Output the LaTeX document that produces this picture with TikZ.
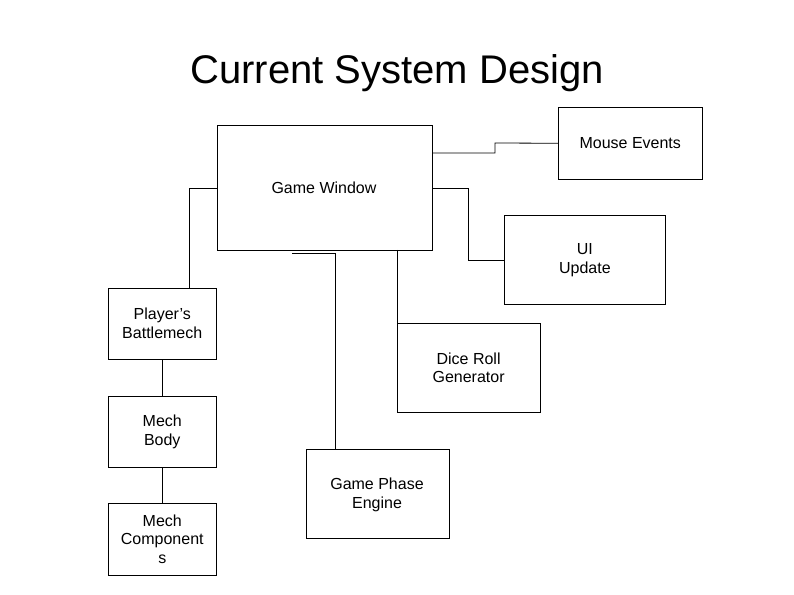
\documentclass[tikz,border=0pt]{standalone}
\usepackage{fontspec}
\setmainfont{Liberation Sans}
\usetikzlibrary{positioning}

\begin{document}
\begin{tikzpicture}[x=0.75pt,y=-0.75pt,
    box/.style={draw,fill=white,anchor=north west,inner sep=0pt,align=center,font=\fontsize{12}{14}\selectfont},
    link/.style={draw,line width=0.6pt}]
                \useasboundingbox (0,0) rectangle (794,595);
                \node[font=\fontsize{30}{34}\selectfont] (title) at (397,73) {Current System Design};

                % boxes
                \node[box,minimum width=161pt,minimum height=94pt] (window) at (217,125) {};
                \node[font=\fontsize{12}{14}\selectfont] at (324,188) {Game Window};
                \node[box,minimum width=108pt,minimum height=54pt] (mouse) at (558,107) {Mouse Events};
                \node[box,minimum width=121pt,minimum height=67pt] (ui) at (504,215) {UI\\Update};
                \node[box,minimum width=81pt,minimum height=53pt] (player) at (108,288) {Player's\\Battlemech};
                \node[box,minimum width=107pt,minimum height=67pt] (dice) at (397,323) {Dice Roll\\Generator};
                \node[box,minimum width=81pt,minimum height=53pt] (body) at (108,396) {Mech\\Body};
                \node[box,minimum width=107pt,minimum height=67pt] (phase) at (306,449) {};
                \node[font=\fontsize{12}{14}\selectfont,align=center] at (377,495) {Game Phase\\Engine};
                \node[box,minimum width=81pt,minimum height=54pt] (parts) at (108,503) {Mech\\Component\\s};

                % connectors
                \coordinate (a) at (432,153);
                \draw[link] (a) -- (495,153) -- (495,143) -- (mouse.west);
                \coordinate (b) at (432,188);
                \draw[link] (b) -- (468,188) |- (ui.west);
                \coordinate (c) at (217,188);
                \draw[link] (c) -- (189,188) -- (189,288);
                \coordinate (d) at (292,253);
                \draw[link] (d) -- (335,253) -- (335,449);
                \coordinate (e) at (397,250);
                \draw[link] (e) -- (dice.north west);
                \draw[link] (player.south) -- (body.north);
                \draw[link] (body.south) -- (parts.north);
            \end{tikzpicture}
\end{document}
